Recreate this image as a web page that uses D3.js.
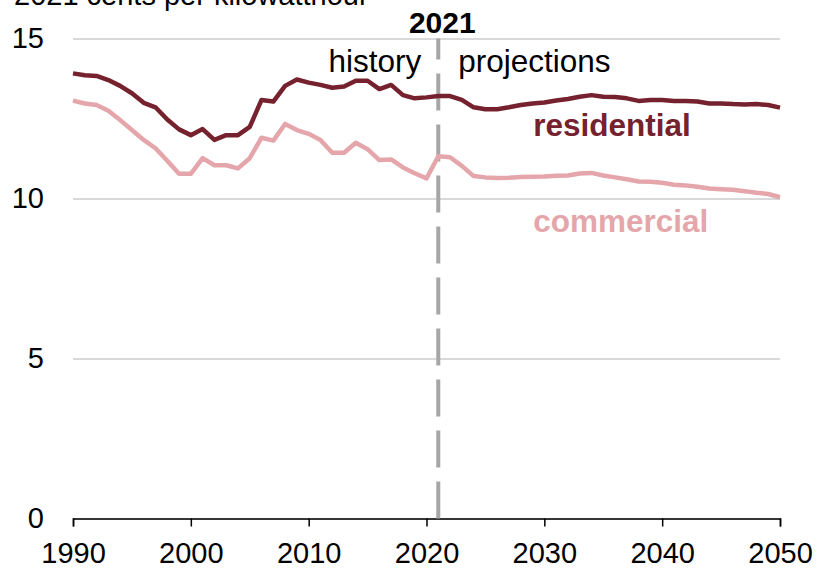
<!DOCTYPE html>
<html>
<head>
<meta charset="utf-8">
<script src="https://cdn.jsdelivr.net/npm/d3@7"></script>
<style>
  body { margin: 0; background: #fff; }
  svg { display: block; font-family: Arial, "Liberation Sans", sans-serif; }
</style>
</head>
<body>
<div id="chart"></div>
<script>
// years 1990-2050
var years = d3.range(1990, 2051);

// 2021 cents per kilowatthour
var residential = [
  13.91, 13.85, 13.83, 13.70, 13.52, 13.29, 12.99, 12.85, 12.47, 12.16,
  11.98, 12.17, 11.83, 11.98, 11.98, 12.24, 13.08, 13.03, 13.52, 13.72,
  13.62, 13.55, 13.46, 13.50, 13.68, 13.68, 13.42, 13.55, 13.23, 13.13,
  13.16, 13.20, 13.20, 13.08, 12.85, 12.79, 12.79, 12.85, 12.92, 12.97,
  13.00, 13.06, 13.11, 13.18, 13.23, 13.18, 13.17, 13.13, 13.05, 13.08,
  13.08, 13.05, 13.05, 13.03, 12.97, 12.97, 12.95, 12.94, 12.95, 12.92,
  12.84
];
var commercial = [
  13.06, 12.97, 12.92, 12.74, 12.45, 12.14, 11.83, 11.57, 11.18, 10.77,
  10.77, 11.26, 11.04, 11.04, 10.94, 11.26, 11.90, 11.81, 12.33, 12.14,
  12.02, 11.83, 11.43, 11.43, 11.74, 11.54, 11.20, 11.22, 10.97, 10.79,
  10.63, 11.32, 11.29, 11.02, 10.70, 10.66, 10.64, 10.65, 10.67, 10.68,
  10.69, 10.71, 10.72, 10.78, 10.80, 10.72, 10.66, 10.60, 10.53, 10.52,
  10.49, 10.43, 10.41, 10.37, 10.31, 10.29, 10.27, 10.23, 10.18, 10.14,
  10.04
];

var xTicks = [1990, 2000, 2010, 2020, 2030, 2040, 2050];
var yTicks = [0, 5, 10, 15];
var splitYear = 2021;

var width = 817, height = 569;
var margin = { top: 38.5, right: 37, bottom: 50.5, left: 73 };

var x = d3.scaleLinear()
    .domain([1990, 2050])
    .range([margin.left, width - margin.right]);
var y = d3.scaleLinear()
    .domain([0, 15])
    .range([height - margin.bottom, margin.top]);

var svg = d3.select('#chart').append('svg')
    .attr('width', width)
    .attr('height', height);

// gridlines + y labels
var gy = svg.append('g')
    .attr('transform', `translate(${margin.left},0)`)
    .call(d3.axisLeft(y)
      .tickValues(yTicks)
      .tickSize(-(width - margin.left - margin.right))
      .tickPadding(29)
      .tickFormat(d3.format('d')));
gy.select('.domain').remove();
gy.selectAll('line')
    .attr('stroke', '#d9d9d9')
    .attr('stroke-width', 2);
gy.selectAll('text')
    .attr('font-size', 29)
    .attr('fill', '#000');

// x axis
var gx = svg.append('g')
    .attr('transform', `translate(0,${y(0)})`)
    .call(d3.axisBottom(x)
      .tickValues(xTicks)
      .tickSize(8)
      .tickSizeOuter(8)
      .tickPadding(16)
      .tickFormat(d3.format('d')));
gx.select('.domain')
    .attr('stroke', '#000')
    .attr('stroke-width', 1.5);
gx.selectAll('line')
    .attr('stroke', '#000')
    .attr('stroke-width', 1.5);
gx.selectAll('text')
    .attr('font-size', 29)
    .attr('fill', '#000');

// history / projections divider
svg.append('line')
    .attr('x1', x(splitYear)).attr('x2', x(splitYear))
    .attr('y1', y(0)).attr('y2', y(15))
    .attr('stroke', '#a6a6a6')
    .attr('stroke-width', 4)
    .attr('stroke-dasharray', '37,14');

var line = d3.line()
    .x((d, i) => x(years[i]))
    .y(d => y(d));

svg.append('path')
    .datum(commercial)
    .attr('fill', 'none')
    .attr('stroke', '#e5a6ab')
    .attr('stroke-width', 4.5)
    .attr('stroke-linejoin', 'round')
    .attr('d', line);

svg.append('path')
    .datum(residential)
    .attr('fill', 'none')
    .attr('stroke', '#76212e')
    .attr('stroke-width', 4.5)
    .attr('stroke-linejoin', 'round')
    .attr('d', line);

// labels
svg.append('text')
    .attr('x', 14)
    .attr('y', 5)
    .attr('font-size', 29)
    .text('2021 cents per kilowatthour');

svg.append('text')
    .attr('x', x(splitYear) + 4)
    .attr('y', 33)
    .attr('font-size', 30)
    .attr('font-weight', 'bold')
    .attr('text-anchor', 'middle')
    .text('2021');

svg.append('text')
    .attr('x', x(splitYear) - 17)
    .attr('y', 72)
    .attr('font-size', 31.5)
    .attr('text-anchor', 'end')
    .text('history');

svg.append('text')
    .attr('x', x(splitYear) + 20)
    .attr('y', 72)
    .attr('font-size', 31.5)
    .text('projections');

svg.append('text')
    .attr('x', x(2029.05))
    .attr('y', y(11.95))
    .attr('font-size', 31.5)
    .attr('font-weight', 'bold')
    .attr('fill', '#76212e')
    .text('residential');

svg.append('text')
    .attr('x', x(2029.05))
    .attr('y', y(8.95))
    .attr('font-size', 31.5)
    .attr('font-weight', 'bold')
    .attr('fill', '#e5a6ab')
    .text('commercial');
</script>
</body>
</html>
